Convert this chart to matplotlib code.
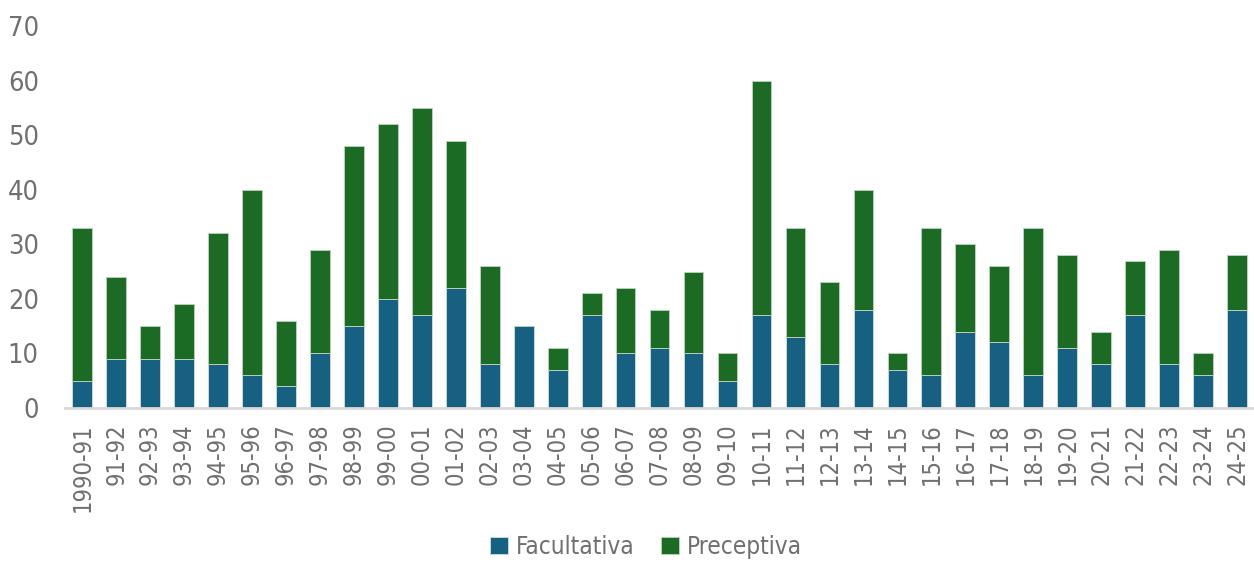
import matplotlib.pyplot as plt
import numpy as np

plt.rcParams['font.family'] = ['DejaVu Sans']
plt.rcParams['font.stretch'] = 'condensed'

cursos = ["1990-91", "91-92", "92-93", "93-94", "94-95", "95-96", "96-97", "97-98",
          "98-99", "99-00", "00-01", "01-02", "02-03", "03-04", "04-05", "05-06",
          "06-07", "07-08", "08-09", "09-10", "10-11", "11-12", "12-13", "13-14",
          "14-15", "15-16", "16-17", "17-18", "18-19", "19-20", "20-21", "21-22",
          "22-23", "23-24", "24-25"]
facultativa = [5, 9, 9, 9, 8, 6, 4, 10, 15, 20, 17, 22, 8, 15, 7, 17, 10, 11, 10, 5,
               17, 13, 8, 18, 7, 6, 14, 12, 6, 11, 8, 17, 8, 6, 18]
total = [33, 24, 15, 19, 32, 40, 16, 29, 48, 52, 55, 49, 26, 15, 11, 21, 22, 18, 25, 10,
         60, 33, 23, 40, 10, 33, 30, 26, 33, 28, 14, 27, 29, 10, 28]
preceptiva = [t - f for t, f in zip(total, facultativa)]

blue = "#166082"
green = "#1b6b24"
grey = "#707070"

fig = plt.figure(figsize=(12.54, 5.65), dpi=100)
ax = fig.add_axes([0.052, 0.278, 0.948, 0.676])

x = np.arange(len(cursos))
ax.bar(x, facultativa, width=0.58, color=blue, edgecolor="#c9d9e0", linewidth=0.7,
       label="Facultativa")
ax.bar(x, preceptiva, width=0.58, bottom=facultativa, color=green, edgecolor="#b7cfb9",
       linewidth=0.7, label="Preceptiva")

ax.set_xlim(-0.5, len(cursos) - 0.5)
ax.set_ylim(0, 70)
ax.set_yticks(range(0, 71, 10))
ax.set_xticks(x)
ax.set_xticklabels(cursos, rotation=90)

for s in ["top", "right", "left"]:
    ax.spines[s].set_visible(False)
ax.spines["bottom"].set_color("#d9d9d9")
ax.spines["bottom"].set_linewidth(2)

ax.tick_params(axis="y", length=0, pad=19, labelsize=19.5, labelcolor=grey)
ax.tick_params(axis="x", length=0, pad=11, labelsize=17, labelcolor=grey)

fig.legend(loc="lower center", bbox_to_anchor=(0.515, -0.028), ncol=2, frameon=False,
           fontsize=17.5, labelcolor=grey, handlelength=0.75, handleheight=0.75,
           handletextpad=0.3, columnspacing=1.1)

fig.savefig("out.png", dpi=100)
